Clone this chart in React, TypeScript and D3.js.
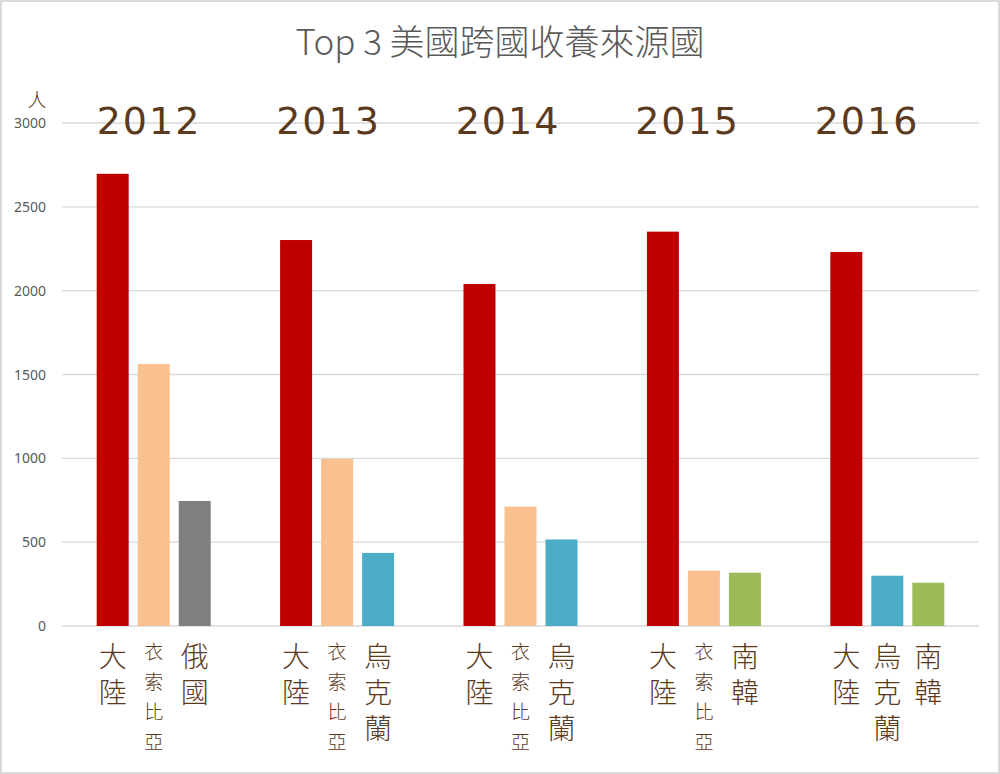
import React from "react";
import * as d3 from "d3";

const years = ["2012", "2013", "2014", "2015", "2016"];
const countries = [
  ["大陸", "衣索比亞", "俄國"],
  ["大陸", "衣索比亞", "烏克蘭"],
  ["大陸", "衣索比亞", "烏克蘭"],
  ["大陸", "衣索比亞", "南韓"],
  ["大陸", "烏克蘭", "南韓"],
];
const values = [
  [2697, 1563, 746],
  [2302, 996, 436],
  [2040, 712, 516],
  [2352, 330, 318],
  [2231, 300, 258],
];
const colorOf: Record<string, string> = {
  大陸: "#C00000",
  衣索比亞: "#FAC090",
  俄國: "#7F7F7F",
  烏克蘭: "#4BACC6",
  南韓: "#9BBB59",
};
const yTicks = [0, 500, 1000, 1500, 2000, 2500, 3000];

const W = 1000;
const H = 774;
const left = 62;
const right = 979;
const yZero = 626;
const yTop = 123;
const brown = "#5B3A1E";
const hand = "'Noto Sans CJK TC', 'Noto Sans CJK SC', sans-serif";

export default function App() {
  const x = d3.scaleBand<string>().domain(years).range([left, right]).paddingInner(0).paddingOuter(0);
  const inner = d3.scaleBand<number>().domain([0, 1, 2]).range([0, x.bandwidth()]).paddingInner(0.22).paddingOuter(0.846);
  const y = d3.scaleLinear().domain([0, 3000]).range([yZero, yTop]);
  const yearX = d3.scalePoint<string>().domain(years).range([149, 867]);

  return (
    <svg width={W} height={H} style={{ position: "absolute", left: 0, top: 0, background: "#fff" }}>
      <rect x={1} y={1} width={W - 2} height={H - 2} fill="#fff" stroke="#d9d9d9" strokeWidth={2} />
      <text x={500} y={55} textAnchor="middle" fontSize={35} fill="#595959" fontFamily="'Noto Sans CJK TC', 'Open Sans', sans-serif" fontWeight={300}>
        Top 3 美國跨國收養來源國
      </text>
      {yTicks.map((t) => (
        <g key={t}>
          <line x1={left} x2={right} y1={y(t)} y2={y(t)} stroke="#d9d9d9" strokeWidth={1.3} />
          <text x={46} y={y(t) + 5} textAnchor="end" fontSize={14} fill="#595959" fontFamily="'Noto Sans', sans-serif">
            {t}
          </text>
        </g>
      ))}
      <text x={37} y={107} textAnchor="middle" fontSize={19} fill={brown} fontFamily={hand} fontWeight={300}>
        人
      </text>
      {years.map((yr, gi) => {
        const gx = x(yr)!;
        return (
          <g key={yr}>
            <text x={yearX(yr)} y={134} textAnchor="middle" fontSize={38} fill={brown} fontFamily="'DejaVu Sans', sans-serif" letterSpacing={2}>
              {yr}
            </text>
            {values[gi].map((v, i) => {
              const bx = gx + inner(i)!;
              const name = countries[gi][i];
              const small = name.length === 4;
              const fs = small ? 19 : 28;
              const spacing = small ? 11 : 8;
              const mx = bx + inner.bandwidth() / 2;
              return (
                <g key={i}>
                  <rect x={bx} y={y(v)} width={inner.bandwidth()} height={yZero - y(v)} fill={colorOf[name]} />
                  <text
                    x={mx}
                    y={642}
                    fontSize={fs}
                    fill={brown}
                    fontFamily={hand}
                    fontWeight={300}
                    letterSpacing={spacing}
                    style={{ writingMode: "vertical-rl" }}
                  >
                    {name}
                  </text>
                </g>
              );
            })}
          </g>
        );
      })}
    </svg>
  );
}
